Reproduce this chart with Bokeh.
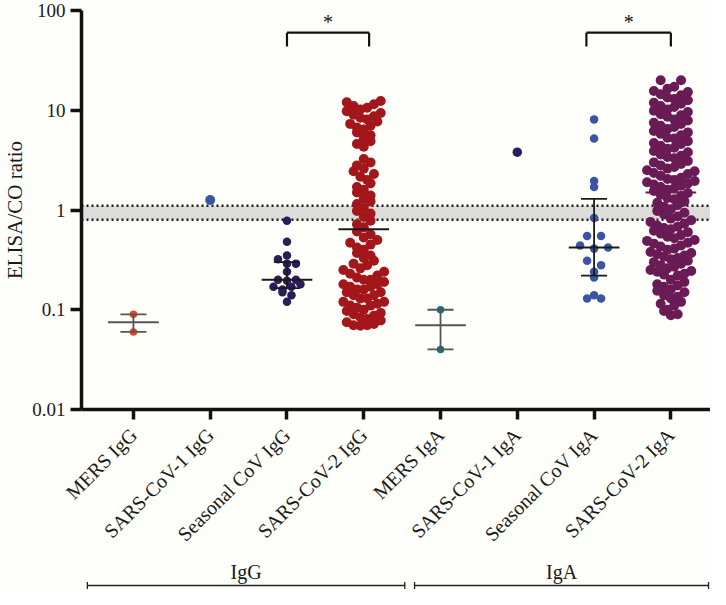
import math
from bokeh.plotting import figure
from bokeh.models import Range1d, FixedTicker, BoxAnnotation, Span
from bokeh.layouts import column
from bokeh.embed import file_html
from bokeh.resources import INLINE
from bokeh.core.properties import value

# ---------------- data ----------------
categories = ["MERS IgG", "SARS-CoV-1 IgG", "Seasonal CoV IgG", "SARS-CoV-2 IgG",
              "MERS IgA", "SARS-CoV-1 IgA", "Seasonal CoV IgA", "SARS-CoV-2 IgA"]

mers_igg = [0.09, 0.06]
sars1_igg = [1.26]
seasonal_igg = [0.78, 0.48, 0.35, 0.32, 0.29, 0.29, 0.24, 0.20, 0.20, 0.195,
                0.18, 0.17, 0.17, 0.16, 0.15, 0.14, 0.12]
sars2_igg = [12.4, 12.0, 11.5, 11.0, 10.6, 10.2,
             9.8, 9.4, 9.0, 8.7, 8.4, 8.1,
             7.7, 7.3, 7.0, 6.7, 6.4,
             6.0, 5.6, 5.2, 4.9, 4.6, 4.3,
             3.25,
             3.0, 2.8, 2.6, 2.45, 2.3, 2.15, 2.0, 1.85, 1.7, 1.6, 1.5, 1.4, 1.3, 1.22,
             1.15, 1.05, 0.98, 0.92, 0.85, 0.78, 0.72, 0.67,
             0.61, 0.57, 0.53, 0.50, 0.47, 0.45, 0.42, 0.40, 0.37, 0.35, 0.33, 0.31,
             0.29, 0.28,
             0.26, 0.25, 0.24, 0.23, 0.22, 0.21, 0.20, 0.20, 0.19, 0.18, 0.18, 0.17,
             0.17, 0.16, 0.16, 0.15, 0.15, 0.14, 0.14, 0.13, 0.13, 0.12, 0.12, 0.115,
             0.11, 0.11, 0.105, 0.10, 0.097, 0.093, 0.090, 0.087, 0.084, 0.081, 0.078,
             0.075, 0.072, 0.070, 0.070, 0.069]
mers_iga = [0.10, 0.04]
sars1_iga = [3.8]
seasonal_iga = [8.1, 5.2, 1.95, 1.7, 0.83, 0.55, 0.55, 0.44, 0.42, 0.41, 0.31,
                0.28, 0.24, 0.21, 0.14, 0.13, 0.13]
sars2_iga = [20.0, 20.0,
             17.2, 16.4, 15.6, 15.2, 14.5, 14.1, 13.4, 13.0, 12.6, 11.9, 11.6, 11.0,
             10.8, 10.2, 9.9, 9.6, 9.1, 8.9, 8.6, 8.1, 7.9, 7.5, 7.3, 7.0, 6.8, 6.5,
             6.2, 6.0, 5.8, 5.6, 5.3, 5.2,
             4.9, 4.7, 4.6, 4.4, 4.2, 4.1, 3.9, 3.8, 3.6, 3.5, 3.4, 3.3, 3.1, 3.0,
             2.9, 2.8, 2.7, 2.6, 2.5, 2.45, 2.35, 2.3, 2.2, 2.1, 2.05, 2.0, 1.95,
             1.9, 1.85, 1.8, 1.75, 1.7, 1.65, 1.6, 1.55,
             1.48, 1.42, 1.38, 1.32, 1.28, 1.22, 1.18, 1.12, 1.08, 1.02, 0.98, 0.94,
             0.90, 0.86, 0.82, 0.79, 0.76, 0.73, 0.70, 0.68,
             0.66, 0.64, 0.62, 0.60, 0.58, 0.56, 0.54, 0.52, 0.50, 0.49, 0.47, 0.46,
             0.44, 0.43, 0.41, 0.40, 0.38, 0.37, 0.36, 0.35, 0.34, 0.33, 0.32, 0.31,
             0.30, 0.29, 0.28, 0.27, 0.26, 0.25, 0.245, 0.24, 0.23, 0.225, 0.22,
             0.20, 0.19, 0.18, 0.175, 0.17, 0.16, 0.155, 0.15, 0.14, 0.135, 0.13,
             0.12, 0.115, 0.11, 0.10, 0.097, 0.090, 0.088]

series = [mers_igg, sars1_igg, seasonal_igg, sars2_igg,
          mers_iga, sars1_iga, seasonal_iga, sars2_iga]

# summary lines (mean / median with range or IQR), None = not shown
center_vals = [0.075, None, 0.20, 0.64, 0.07, None, 0.42, 1.5]
low_vals = [0.06, None, 0.165, None, 0.04, None, 0.22, None]
high_vals = [0.09, None, 0.30, None, 0.10, None, 1.29, None]

cutoff_low, cutoff_high = 0.8, 1.1
sig_left = [3.0, 6.9]
sig_right = [4.07, 8.0]
sig_labels = ["*", "*"]
group_names = ["IgG", "IgA"]
y_tick_values = [0.01, 0.1, 1, 10, 100]
y_tick_labels = ["0.01", "0.1", "1", "10", "100"]

# ---------------- styling ----------------
colors = ["#E8461E", "#3B55A5", "#2A1D5C", "#A3171B",
          "#107585", "#2A1D5C", "#3B55A5", "#6A1B55"]
sizes = [7.5, 10, 8.5, 10, 7.5, 9.5, 8.5, 10]
slot_w = [8, 8, 9, 6.8, 8, 8, 14, 6.8]
bin_h = [8, 8, 8, 10, 8, 8, 8, 10]
center_colors = ["#555555", None, "#1a1a1a", "#1a1a1a", "#555555", None, "#1a1a1a", "#6A1B55"]
BG = "#FEFEFA"
FONT = "Liberation Serif"
TXT = "#1a1a1a"

W, H = 710, 556
LEFT, TOP = 80, 10
FRAME_W, FRAME_H = W - LEFT, 399
PXU = 76.9
X0 = 1 - (132 - LEFT) / PXU
X1 = X0 + FRAME_W / PXU
PPD = FRAME_H / 4.0


def swarm(vals, d, h):
    ys = [math.log10(v) * PPD for v in vals]
    bins = {}
    for i, y in enumerate(ys):
        bins.setdefault(math.floor(y / h), []).append(i)
    xs = [0.0] * len(vals)
    for k, idx in bins.items():
        idx.sort(key=lambda i: ys[i])
        n = len(idx)
        slots = [(j - (n - 1) / 2) * d for j in range(n)]
        sgn = 1 if k % 2 == 0 else -1
        order = sorted(range(n), key=lambda j: (round(abs(slots[j]), 6), sgn * slots[j]))
        for i, j in zip(idx, order):
            xs[i] = slots[j]
    return [x / PXU for x in xs]


p = figure(width=W, height=H, x_range=Range1d(X0, X1), y_range=Range1d(0.01, 100),
           y_axis_type="log", output_backend="svg", toolbar_location=None,
           min_border_left=LEFT, min_border_right=0, min_border_top=TOP,
           min_border_bottom=H - TOP - FRAME_H,
           background_fill_color=BG, border_fill_color=BG, outline_line_color=None)
p.xgrid.visible = False
p.ygrid.visible = False

# cut-off band
p.add_layout(BoxAnnotation(bottom=cutoff_low, top=cutoff_high, fill_color="#DCDCDA",
                           fill_alpha=1.0, line_color=None, level="underlay"))
for yv in (cutoff_low, cutoff_high):
    p.add_layout(Span(location=yv, dimension="width", line_color="#1a1a1a",
                      line_width=2.5, line_dash="2 3", level="underlay"))

# points
for i, vals in enumerate(series):
    xs = [i + 1 + o for o in swarm(vals, slot_w[i], bin_h[i])]
    p.scatter(xs, vals, size=sizes[i], fill_color=colors[i], line_color=None)

# summary lines
for i in range(8):
    c = center_vals[i]
    if c is None:
        continue
    col = center_colors[i]
    p.segment(x0=[i + 1 - 0.33], x1=[i + 1 + 0.33], y0=[c], y1=[c],
              line_color=col, line_width=2)
    if low_vals[i] is not None:
        p.segment(x0=[i + 1], x1=[i + 1], y0=[low_vals[i]], y1=[high_vals[i]],
                  line_color=col, line_width=1.8)
        for yy in (low_vals[i], high_vals[i]):
            p.segment(x0=[i + 1 - 0.17], x1=[i + 1 + 0.17], y0=[yy], y1=[yy],
                      line_color=col, line_width=1.8)

# significance brackets
for a, b, lab in zip(sig_left, sig_right, sig_labels):
    p.segment(x0=[a, a, b], x1=[b, a, b], y0=[60, 60, 60], y1=[60, 43.5, 43.5],
              line_color="#111111", line_width=2.2)
    p.text(x=[(a + b) / 2], y=[76], text=[lab], text_font=value(FONT),
           text_font_size="20px", text_align="center", text_baseline="middle",
           text_color="#111111")

# axes
yax = p.yaxis[0]
yax.ticker = FixedTicker(ticks=y_tick_values)
yax.major_label_overrides = {v: l for v, l in zip(y_tick_values, y_tick_labels)}
yax.axis_label = "ELISA/CO ratio"
yax.axis_label_text_font = FONT
yax.axis_label_text_font_style = "normal"
yax.axis_label_text_font_size = "21px"
yax.axis_label_text_color = TXT
yax.axis_label_standoff = 2
yax.minor_tick_line_color = None

xax = p.xaxis[0]
xax.ticker = FixedTicker(ticks=list(range(1, 9)))
xax.major_label_overrides = {i + 1: c for i, c in enumerate(categories)}
xax.major_label_orientation = math.pi / 4
xax.minor_tick_line_color = None

for ax in (xax, yax):
    ax.axis_line_width = 3.5
    ax.axis_line_color = "#111111"
    ax.major_tick_line_width = 3.5
    ax.major_tick_line_color = "#111111"
    ax.major_tick_in = 0
    ax.major_label_text_font = FONT
    ax.major_label_text_color = TXT
yax.major_tick_out = 11
yax.major_label_standoff = 5
yax.major_label_text_font_size = "19px"
xax.major_tick_out = 10
xax.major_label_standoff = 12
xax.major_label_text_font_size = "20px"

# group labels below
H2 = 589 - H
LB2 = 66
p2 = figure(width=W, height=H2, x_range=Range1d(X0 - (LEFT - LB2) / PXU, X1),
            y_range=Range1d(H2, 0), output_backend="svg", toolbar_location=None,
            min_border_left=LB2, min_border_right=0, min_border_top=0, min_border_bottom=0,
            background_fill_color=BG, border_fill_color=BG, outline_line_color=None)
p2.axis.visible = False
p2.xgrid.visible = False
p2.ygrid.visible = False
group_start = [X0 - (LEFT - 72) / PXU, X0 + (407 - LEFT) / PXU]
group_end = [X0 + (397 - LEFT) / PXU, X1 - 2 / PXU]
for name, s, e in zip(group_names, group_start, group_end):
    p2.text(x=[(s + e) / 2], y=[15], text=[name], text_font=value(FONT),
            text_font_size="20px", text_align="center", text_baseline="middle",
            text_color=TXT)
    p2.segment(x0=[s, s, e], x1=[e, s, e], y0=[29, 25.5, 25.5], y1=[29, 32.5, 32.5],
               line_color="#222222", line_width=1.3)

layout = column(p, p2, spacing=0)
open("out.html", "w").write(file_html(layout, INLINE))
